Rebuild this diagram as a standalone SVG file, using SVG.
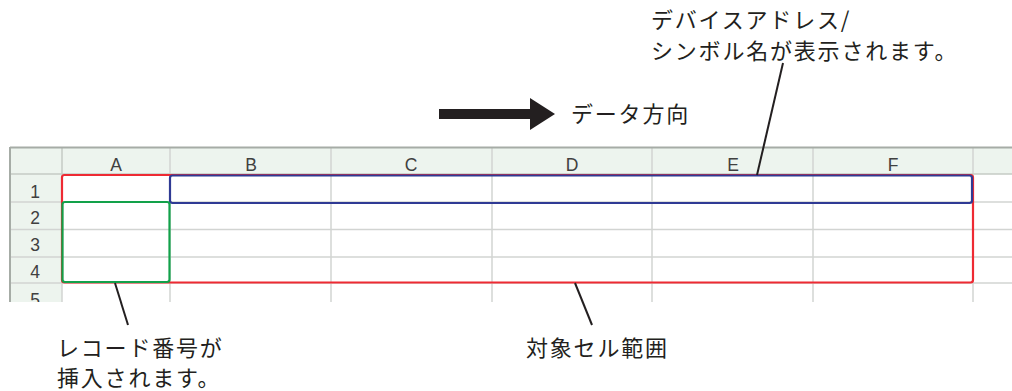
<svg xmlns="http://www.w3.org/2000/svg" width="1012" height="391" viewBox="0 0 1012 391">
<style>
.jp{font-family:"Noto Sans CJK JP","Noto Sans",sans-serif;font-size:22px;fill:#231f20;letter-spacing:1.8px}
.hd{font-family:"Liberation Sans","DejaVu Sans",sans-serif;font-size:17.5px;fill:#404040;text-anchor:middle}
.grid{stroke:#d2d4d2;stroke-width:1.5;fill:none}
.lead{stroke:#231f20;stroke-width:2;fill:none}
</style>
<defs>
<clipPath id="sheetclip"><rect x="0" y="140" width="1012" height="162"/></clipPath>
</defs>
<g id="sheet" clip-path="url(#sheetclip)">
<rect x="10" y="148" width="1002" height="160" fill="#ffffff"/>
<rect x="10" y="148" width="1002" height="26" fill="#edf4ee"/>
<rect x="10" y="148" width="52" height="160" fill="#edf4ee"/>
<g class="grid">
<line x1="10" y1="202" x2="1012" y2="202"/>
<line x1="10" y1="229.5" x2="1012" y2="229.5"/>
<line x1="10" y1="257" x2="1012" y2="257"/>
<line x1="10" y1="283" x2="1012" y2="283"/>
<line x1="62" y1="174" x2="62" y2="308"/>
<line x1="170" y1="148" x2="170" y2="308"/>
<line x1="331" y1="148" x2="331" y2="308"/>
<line x1="492" y1="148" x2="492" y2="308"/>
<line x1="652" y1="148" x2="652" y2="308"/>
<line x1="813" y1="148" x2="813" y2="308"/>
<line x1="973" y1="148" x2="973" y2="308"/>
<line x1="10" y1="174" x2="1012" y2="174" stroke="#c4cbc4"/>
<line x1="62" y1="148" x2="62" y2="174" stroke="#c4cbc4"/>
</g>
<line x1="10" y1="147.5" x2="1012" y2="147.5" stroke="#a6aca6" stroke-width="2"/>
<line x1="10" y1="147" x2="10" y2="308" stroke="#a6aca6" stroke-width="2"/>
<text class="hd" x="116" y="171">A</text>
<text class="hd" x="251" y="171">B</text>
<text class="hd" x="411" y="171">C</text>
<text class="hd" x="572" y="171">D</text>
<text class="hd" x="733" y="171">E</text>
<text class="hd" x="893" y="171">F</text>
<text class="hd" x="35" y="198">1</text>
<text class="hd" x="35" y="224">2</text>
<text class="hd" x="35" y="251">3</text>
<text class="hd" x="35" y="278">4</text>
<text class="hd" x="35" y="306">5</text>
</g>
<g id="range-red"><rect x="62" y="175" width="911" height="107.5" rx="2.5" fill="none" stroke="#ee2a33" stroke-width="2.2"/></g>
<g id="range-blue"><rect x="170" y="175.5" width="802" height="27.5" rx="2.5" fill="none" stroke="#2f3a94" stroke-width="2.2"/></g>
<g id="range-green"><rect x="62.5" y="202" width="107" height="80" rx="2.5" fill="none" stroke="#12a14a" stroke-width="2.2"/></g>
<g id="direction">
<polygon points="439,109 530,109 530,98 555,114 530,130 530,119 439,119" fill="#231f20"/>
<text class="jp" x="571" y="122">データ方向</text>
</g>
<g id="label-device">
<text class="jp" x="651" y="28">デバイスアドレス/</text>
<text class="jp" x="651" y="59">シンボル名が表示されます。</text>
</g>
<g id="label-record">
<text class="jp" x="57" y="356">レコード番号が</text>
<text class="jp" x="57" y="386">挿入されます。</text>
</g>
<g id="label-range">
<text class="jp" x="526" y="356">対象セル範囲</text>
</g>
<g id="connectors">
<line class="lead" x1="783" y1="63" x2="757" y2="175"/>
<line class="lead" x1="115" y1="283" x2="128" y2="325"/>
<line class="lead" x1="575" y1="283" x2="592" y2="325"/>
</g>
</svg>
